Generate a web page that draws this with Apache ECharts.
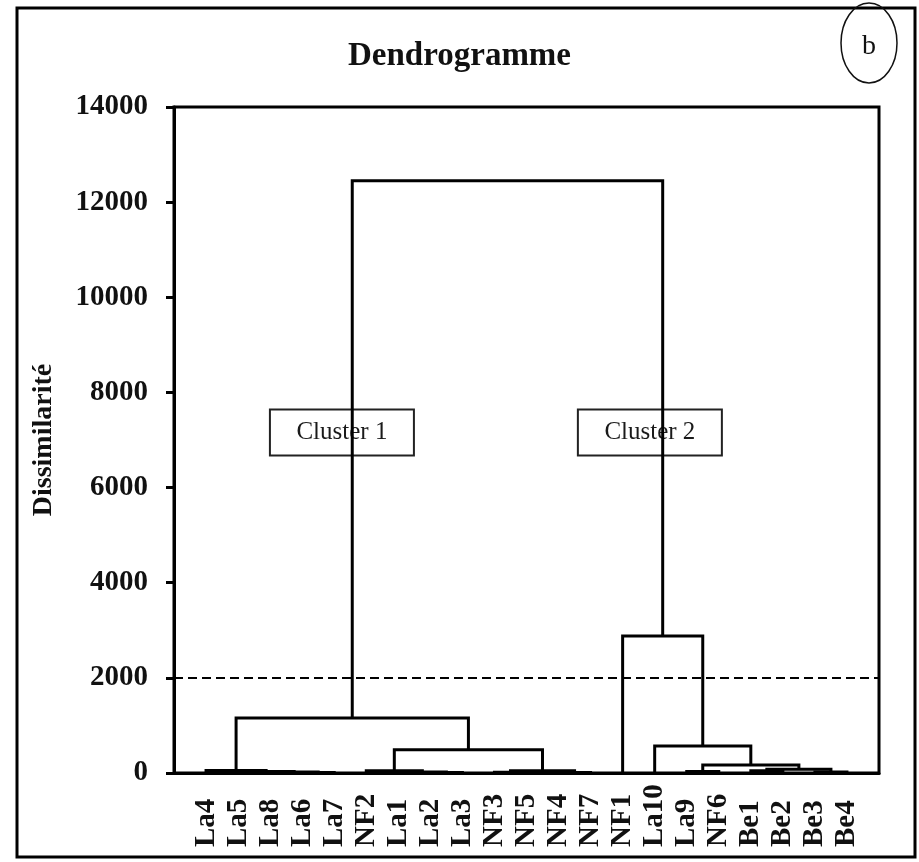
<!DOCTYPE html>
<html>
<head>
<meta charset="utf-8">
<title>Dendrogramme</title>
<script src="https://cdn.jsdelivr.net/npm/echarts@6/dist/echarts.min.js"></script>
<style>
  html, body { margin: 0; background: #fff; }
  #dendro { width: 919px; height: 862px; }
</style>
</head>
<body>
<div id="dendro"></div>
<script>
// leaves, in the order they sit along the bottom axis (position 1..21)
var leaves = ['La4', 'La5', 'La8', 'La6', 'La7', 'NF2', 'La1', 'La2', 'La3', 'NF3', 'NF5',
              'NF4', 'NF7', 'NF1', 'La10', 'La9', 'NF6', 'Be1', 'Be2', 'Be3', 'Be4'];

// merges: name, left child, right child, dissimilarity
var mergeNames  = ['m1', 'm2', 'm3', 'P', 'm5', 'm6', 'R', 'm8', 'm9', 'S', 'Q', 'H',
                   'D', 'F', 'G', 'E', 'C', 'B', 'A', 'T'];
var mergeLeft   = ['La6', 'La8', 'La5', 'La4', 'La2', 'La1', 'NF2', 'NF3', 'NF4', 'm8', 'R', 'P',
                   'La9', 'Be1', 'Be3', 'F', 'D', 'La10', 'NF1', 'H'];
var mergeRight  = ['La7', 'm1', 'm2', 'm3', 'La3', 'm5', 'm6', 'NF5', 'NF7', 'm9', 'S', 'Q',
                   'NF6', 'Be2', 'Be4', 'G', 'E', 'C', 'B', 'A'];
var mergeHeight = [10, 20, 30, 50, 10, 20, 45, 15, 10, 45, 490, 1155,
                   30, 45, 20, 80, 168, 567, 2880, 12450];

var cutLevel = 2000;
var yTicks = [0, 2000, 4000, 6000, 8000, 10000, 12000, 14000];

var clusterNames = ['Cluster 1', 'Cluster 2'];
var clusterX = [5.24, 14.85];
var clusterY = [7160, 7160];

// node positions: leaf at its index, merge at midpoint of children
var pos = {}, hgt = {};
leaves.forEach(function (n, i) { pos[n] = i + 1; hgt[n] = 0; });
var links = [];
mergeNames.forEach(function (n, i) {
    var a = mergeLeft[i], b = mergeRight[i], h = mergeHeight[i];
    pos[n] = (pos[a] + pos[b]) / 2;
    hgt[n] = h;
    links.push({ coords: [[pos[a], hgt[a]], [pos[a], h], [pos[b], h], [pos[b], hgt[b]]] });
});

var serif = 'Liberation Serif';
var myChart = echarts.init(document.getElementById('dendro'));
var option = {
    backgroundColor: '#fff',
    animation: false,
    title: {
        text: 'Dendrogramme',
        left: 'center',
        top: 35,
        textStyle: { fontFamily: serif, fontSize: 33, fontWeight: 'bold', color: '#111' }
    },
    grid: {
        left: 174, top: 107, right: 40, bottom: 89,
        show: true, borderColor: '#000', borderWidth: 3
    },
    xAxis: {
        type: 'value',
        min: 0, max: leaves.length + 1, interval: 1,
        splitLine: { show: false },
        axisTick: { show: false },
        axisLine: { lineStyle: { color: '#000', width: 3 } },
        axisLabel: {
            rotate: 90,
            align: 'left',
            margin: 74,
            fontFamily: serif, fontSize: 29, fontWeight: 'bold', color: '#111',
            formatter: function (v) { return leaves[v - 1] || ''; }
        }
    },
    yAxis: {
        type: 'value',
        min: 0, max: yTicks[yTicks.length - 1], interval: 2000,
        name: 'Dissimilarité',
        nameLocation: 'middle',
        nameGap: 116,
        nameTextStyle: { fontFamily: serif, fontSize: 28, fontWeight: 'bold', color: '#111' },
        splitLine: { show: false },
        axisLine: { show: true, lineStyle: { color: '#000', width: 3 } },
        axisTick: { show: true, inside: false, length: 8, lineStyle: { color: '#000', width: 3 } },
        axisLabel: {
            margin: 26,
            fontFamily: serif, fontSize: 29, fontWeight: 'bold', color: '#111',
            formatter: function (v) { return String(v); }
        }
    },
    graphic: [
        { type: 'rect', shape: { x: 17, y: 8, width: 898, height: 849 },
          style: { fill: 'none', stroke: '#000', lineWidth: 3 } },
        { type: 'ellipse', shape: { cx: 869, cy: 43, rx: 28, ry: 40 },
          style: { fill: 'none', stroke: '#111', lineWidth: 1.5 } },
        { type: 'text', x: 869, y: 47,
          style: { text: 'b', fontFamily: serif, fontSize: 28, fill: '#111', align: 'center', verticalAlign: 'middle' } }
    ],
    series: [
        {
            type: 'line',
            data: [],
            markLine: {
                silent: true,
                symbol: ['none', 'none'],
                label: { show: false },
                lineStyle: { color: '#000', width: 2, type: [9, 5] },
                data: [{ yAxis: cutLevel }]
            }
        },
        {
            type: 'scatter',
            symbolSize: 1,
            silent: true,
            itemStyle: { color: 'transparent', opacity: 1 },
            data: clusterNames.map(function (n, i) { return [clusterX[i], clusterY[i], n]; }),
            label: {
                show: true,
                position: 'inside',
                formatter: function (p) { return p.data[2]; },
                fontFamily: serif, fontSize: 25, color: '#1a1a1a', opacity: 1,
                width: 144, height: 46, lineHeight: 46,
                align: 'center', verticalAlign: 'middle',
                borderColor: '#222', borderWidth: 2
            },
            z: 3
        },
        {
            type: 'lines',
            coordinateSystem: 'cartesian2d',
            polyline: true,
            silent: true,
            lineStyle: { color: '#000', width: 3, opacity: 1 },
            data: links,
            z: 4
        }
    ]
};
myChart.setOption(option);
window.onresize = myChart.resize;
</script>
</body>
</html>
